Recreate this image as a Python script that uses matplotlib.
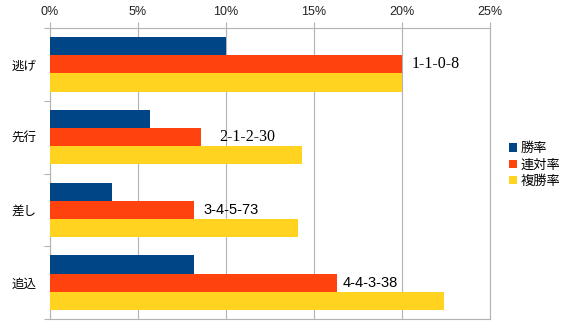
# -*- coding: UTF-8 -*-
# 脚質別 成績グラフ (勝率 / 連対率 / 複勝率)

import numpy as np
import matplotlib
matplotlib.use('Agg')
import matplotlib.pyplot as plt
from matplotlib.ticker import FixedLocator, FuncFormatter

# data
categories = ['逃げ', '先行', '差し', '追込']
records = ['1-1-0-8', '2-1-2-30', '3-4-5-73', '4-4-3-38']
win_rate = [10.0, 5.7, 3.5, 8.2]
rentai_rate = [20.0, 8.6, 8.2, 16.3]
fukusho_rate = [20.0, 14.3, 14.1, 22.4]
series_names = ['勝率', '連対率', '複勝率']
x_ticks = [0, 5, 10, 15, 20, 25]

colors = ['#004586', '#ff420e', '#ffd320']
grid_c = '#b3b3b3'
cjk = ['Noto Sans CJK JP', 'DejaVu Sans']

# label style per record (offset px from orange bar end, font)
rec_offset_px = [10, 17.6, 9, 5.6]
rec_family = ['Liberation Serif', 'Liberation Serif', 'Liberation Sans', 'Liberation Sans']
rec_size = [11.5, 11.5, 10.5, 10.5]


def main():
    fig = plt.figure(figsize=(5.68, 3.34), dpi=100)
    ax = fig.add_axes([50 / 568, 1 - 319 / 334, 440 / 568, 291 / 334])

    y = np.arange(len(categories))
    h = 0.25
    for i, vals in enumerate([win_rate, rentai_rate, fukusho_rate]):
        ax.barh(y + (i - 1) * h, vals, height=h, color=colors[i],
                label=series_names[i], zorder=3)

    # record labels next to orange bar
    for k, txt in enumerate(records):
        ax.annotate(txt, (rentai_rate[k], y[k]), xytext=(rec_offset_px[k] * 0.72, 0),
                    textcoords='offset points', ha='left', va='center',
                    fontsize=rec_size[k], family=rec_family[k], color='black', zorder=4)

    ax.set_xlim(0, 25)
    ax.set_ylim(len(categories) - 0.5, -0.5)

    # x axis on top
    ax.xaxis.tick_top()
    ax.xaxis.set_major_locator(FixedLocator(x_ticks))
    ax.xaxis.set_major_formatter(FuncFormatter(lambda v, p: '%d%%' % v))
    ax.tick_params(axis='x', which='major', length=4.3, width=0.8, color=grid_c,
                   pad=3, labelsize=9, labelcolor='#222222')
    for t in ax.get_xticklabels():
        t.set_family('Liberation Sans')

    # y axis: labels at centers, ticks at boundaries
    ax.yaxis.set_major_locator(FixedLocator(y))
    ax.set_yticklabels(categories, family=cjk, fontsize=9)
    ax.tick_params(axis='y', which='major', length=0, pad=10)
    ax.yaxis.set_minor_locator(FixedLocator(np.arange(len(categories) + 1) - 0.5))
    ax.tick_params(axis='y', which='minor', length=4.3, width=0.8, color=grid_c)

    ax.grid(axis='x', color=grid_c, linewidth=0.8, zorder=0)
    ax.set_axisbelow(True)
    for s in ax.spines.values():
        s.set_color(grid_c)
        s.set_linewidth(0.8)

    fig.legend(loc='center left', bbox_to_anchor=(509 / 568, 1 - 165 / 334),
               frameon=False, prop={'family': cjk, 'size': 9.5},
               handlelength=0.6, handleheight=0.6, handletextpad=0.25,
               labelspacing=0.25, borderaxespad=0, borderpad=0)

    fig.savefig('out.png', dpi=100, facecolor='white')


if __name__ == '__main__':
    main()
